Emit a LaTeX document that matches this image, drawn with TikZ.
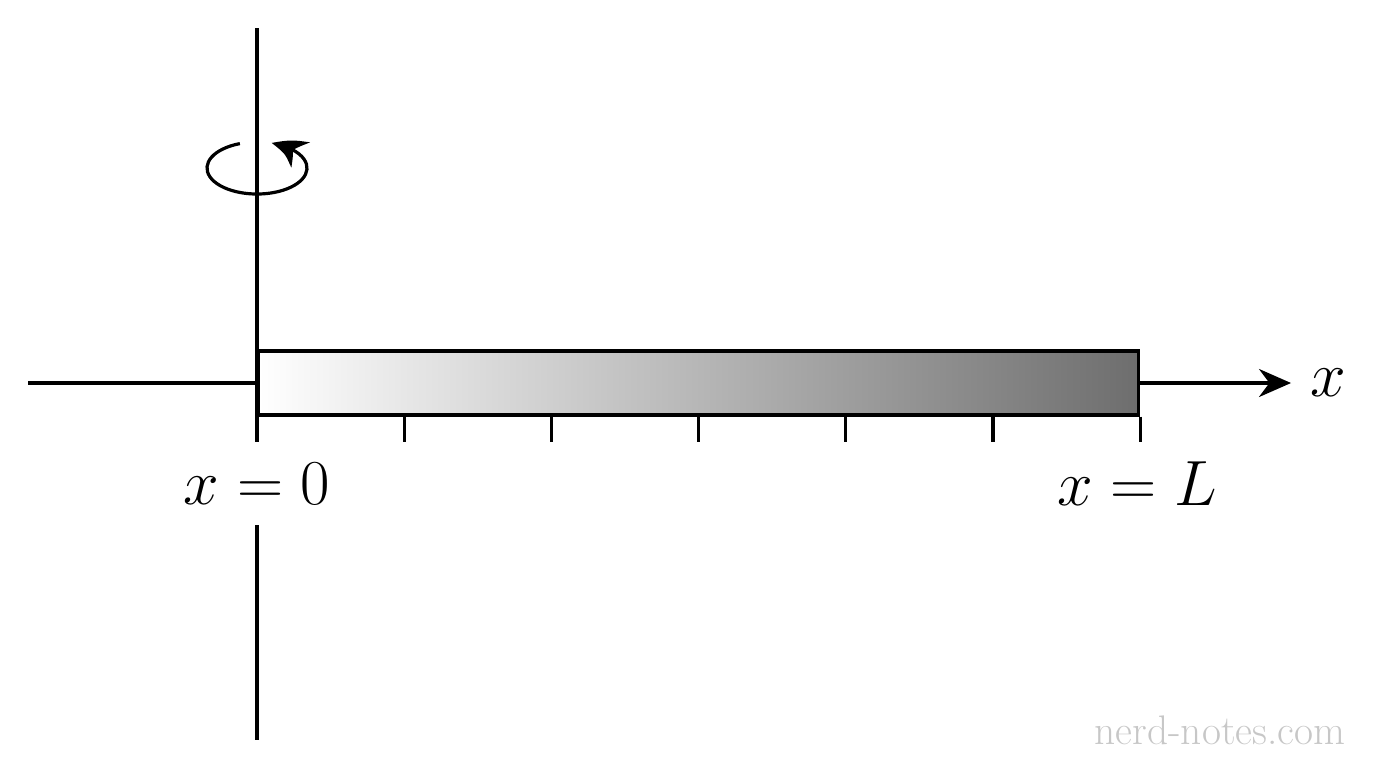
\RequirePackage{fix-cm}
\documentclass[tikz,border=0pt]{standalone}
\usepackage{amsmath,amssymb}
\usetikzlibrary{arrows.meta,bending,calc,positioning}

\begin{document}
\begin{tikzpicture}[x=0.75pt,y=0.75pt,yscale=-1,xscale=1,
    axisline/.style={line width=2.4pt},
    rodbar/.style={draw,line width=2.4pt,rectangle,inner sep=0pt,minimum width=660pt,minimum height=48pt,left color=white,right color=black!57},
    mathlabel/.style={font=\fontsize{48}{58}\selectfont},
    axistip/.style={-{Stealth[length=24pt,width=21pt]}}]
    \useasboundingbox (0,0) rectangle (1376,768);

    %Shape: Rod
    \node [rodbar,anchor=west] (rod) at (257,383) {};
    %Coordinates of the axes
    \coordinate (ytop) at (257,28);
    \coordinate (ybot) at (257,440);
    \coordinate (ylow) at (257,525);
    \coordinate (yend) at (257,740);
    \coordinate (xleft) at (28,383);
    \coordinate (xtip) at (1291,383);
    %Straight Lines
    \draw [axisline] (ytop) -- (ybot) ;
    \draw [axisline] (ylow) -- (yend) ;
    \draw [axisline] (xleft) -- (rod.west) ;
    \draw [axisline,axistip] (rod.east) -- (xtip) ;
    %Ticks
    \foreach \tk in {0,...,6}
      \draw [axisline] ($(rod.south west)!\tk/6!(rod.south east)$) -- ++(0,25) ;
    %Rotation Arrow
    \draw [axisline,-{Stealth[length=26pt,width=23pt,bend]}] (239.9,143.6) arc [start angle=250,end angle=-73,x radius=50,y radius=26] ;
    % Text Node
    \node [mathlabel] (zero) at (257,484) {$x=0$};
    % Text Node
    \node [mathlabel] (ell) at (1137,484) {$x=L$};
    % Text Node
    \node [mathlabel,right=11pt of xtip] (xlab) {$x$};
    % Text Node
    \node [font=\fontsize{31}{36}\selectfont,color=black!22] (mark) at (1220,730) {nerd-notes.com};
\end{tikzpicture}
\end{document}
